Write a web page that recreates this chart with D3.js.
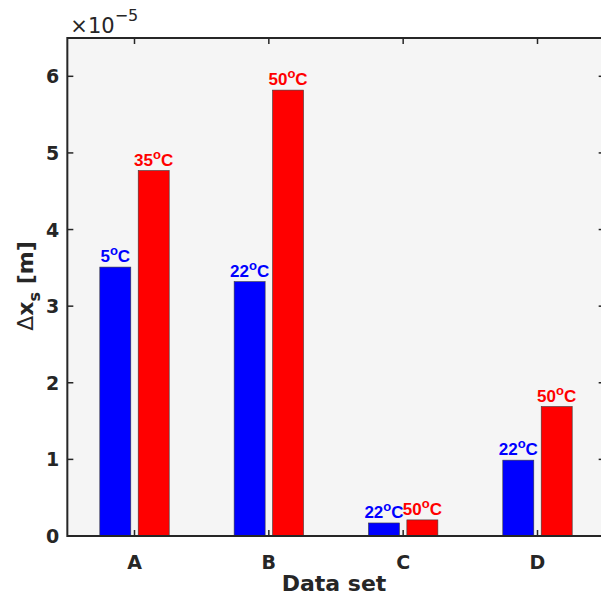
<!DOCTYPE html>
<html>
<head>
<meta charset="utf-8">
<script src="https://cdn.jsdelivr.net/npm/d3@7"></script>
<style>
  body { margin: 0; background: #fff; }
  svg { display: block; }
</style>
</head>
<body>
<svg width="601" height="600"></svg>
<script>
var categories = ["A", "B", "C", "D"];
var coldValues = [3.51, 3.32, 0.17, 0.99];
var hotValues = [4.77, 5.82, 0.21, 1.69];
var coldLabels = ["5", "22", "22", "22"];
var hotLabels = ["35", "50", "50", "50"];
var yTicks = [0, 1, 2, 3, 4, 5, 6];

var svg = d3.select("svg");

var plotTop = 38, plotBottom = 536;
// category 1 sits at 134.5, category 4 at 537.5
var x = d3.scaleLinear().domain([1, 4]).range([134.5, 537.5]);
var plotLeft = x(0.5), plotRight = x(4.5);
var y = d3.scaleLinear().domain([0, 6.5]).range([plotBottom, plotTop]);

var BarWidth = 31;
var Offset = 19.2;
var BlueColor = "#0000ff";
var RedColor = "#ff0000";
var AxisColor = "#262626";

svg.append("rect")
    .attr("x", plotLeft).attr("y", plotTop)
    .attr("width", plotRight - plotLeft).attr("height", plotBottom - plotTop)
    .attr("fill", "#f5f5f5");

var series = [
    { values: coldValues, labels: coldLabels, color: BlueColor, dx: -Offset },
    { values: hotValues, labels: hotLabels, color: RedColor, dx: Offset }
];

series.forEach(function (s) {
    var g = svg.append("g");
    g.selectAll("rect")
        .data(s.values)
        .enter().append("rect")
        .attr("x", function (d, i) { return x(i + 1) + s.dx - BarWidth / 2; })
        .attr("y", function (d) { return y(d); })
        .attr("width", BarWidth)
        .attr("height", function (d) { return y(0) - y(d); })
        .attr("fill", s.color)
        .attr("stroke", "#3a3a3a")
        .attr("stroke-width", 0.6);

    var t = g.selectAll("text")
        .data(s.values)
        .enter().append("text")
        .attr("x", function (d, i) { return x(i + 1) + s.dx; })
        .attr("y", function (d) { return y(d) - 5; })
        .attr("text-anchor", "middle")
        .attr("fill", s.color)
        .style("font-family", "'Liberation Sans', Arial, sans-serif")
        .style("font-weight", "bold")
        .style("font-size", "17px");
    t.append("tspan").text(function (d, i) { return s.labels[i]; });
    t.append("tspan").attr("dy", -7).style("font-size", "13px").text("o");
    t.append("tspan").attr("dy", 7).text("C");
});

// box and ticks
var axisG = svg.append("g");
axisG.append("rect")
    .attr("x", plotLeft).attr("y", plotTop)
    .attr("width", plotRight - plotLeft).attr("height", plotBottom - plotTop)
    .attr("fill", "none")
    .attr("stroke", AxisColor)
    .attr("stroke-width", 2);

var tickLen = 6;
axisG.selectAll(".ytl")
    .data(yTicks)
    .enter().append("line")
    .attr("x1", plotLeft).attr("x2", plotLeft + tickLen)
    .attr("y1", function (d) { return y(d); })
    .attr("y2", function (d) { return y(d); })
    .attr("stroke", AxisColor).attr("stroke-width", 1.5);
axisG.selectAll(".ytr")
    .data(yTicks)
    .enter().append("line")
    .attr("x1", plotRight).attr("x2", plotRight - tickLen)
    .attr("y1", function (d) { return y(d); })
    .attr("y2", function (d) { return y(d); })
    .attr("stroke", AxisColor).attr("stroke-width", 1.5);
axisG.selectAll(".xtb")
    .data(categories)
    .enter().append("line")
    .attr("x1", function (d, i) { return x(i + 1); })
    .attr("x2", function (d, i) { return x(i + 1); })
    .attr("y1", plotBottom).attr("y2", plotBottom - tickLen)
    .attr("stroke", AxisColor).attr("stroke-width", 1.5);
axisG.selectAll(".xtt")
    .data(categories)
    .enter().append("line")
    .attr("x1", function (d, i) { return x(i + 1); })
    .attr("x2", function (d, i) { return x(i + 1); })
    .attr("y1", plotTop).attr("y2", plotTop + tickLen)
    .attr("stroke", AxisColor).attr("stroke-width", 1.5);

var fontAxis = "'DejaVu Sans', sans-serif";

axisG.selectAll(".ylab")
    .data(yTicks)
    .enter().append("text")
    .attr("x", plotLeft - 8)
    .attr("y", function (d) { return y(d) + 7; })
    .attr("text-anchor", "end")
    .attr("fill", AxisColor)
    .style("font-family", fontAxis)
    .style("font-weight", "bold")
    .style("font-size", "19px")
    .text(function (d) { return d; });

axisG.selectAll(".xlab")
    .data(categories)
    .enter().append("text")
    .attr("x", function (d, i) { return x(i + 1); })
    .attr("y", plotBottom + 33)
    .attr("text-anchor", "middle")
    .attr("fill", AxisColor)
    .style("font-family", fontAxis)
    .style("font-weight", "bold")
    .style("font-size", "19px")
    .text(function (d) { return d; });

// exponent
var ex = axisG.append("text")
    .attr("x", plotLeft + 3).attr("y", 33)
    .attr("fill", AxisColor)
    .style("font-family", fontAxis)
    .style("font-size", "21px");
ex.append("tspan").text("×10");
ex.append("tspan").attr("dy", -12).style("font-size", "16px").text("−5");

// axis titles
svg.append("text")
    .attr("x", 334).attr("y", 591)
    .attr("text-anchor", "middle")
    .attr("fill", AxisColor)
    .style("font-family", fontAxis)
    .style("font-weight", "bold")
    .style("font-size", "22px")
    .text("Data set");

var yt = svg.append("text")
    .attr("transform", "translate(33," + 286 + ") rotate(-90)")
    .attr("text-anchor", "middle")
    .attr("fill", AxisColor)
    .style("font-family", fontAxis)
    .style("font-weight", "bold")
    .style("font-size", "22px");
yt.append("tspan").style("font-weight", "normal").text("Δ");
yt.append("tspan").text("x");
yt.append("tspan").attr("dy", 7).style("font-size", "16px").text("s");
yt.append("tspan").attr("dy", -7).text(" [m]");
</script>
</body>
</html>
